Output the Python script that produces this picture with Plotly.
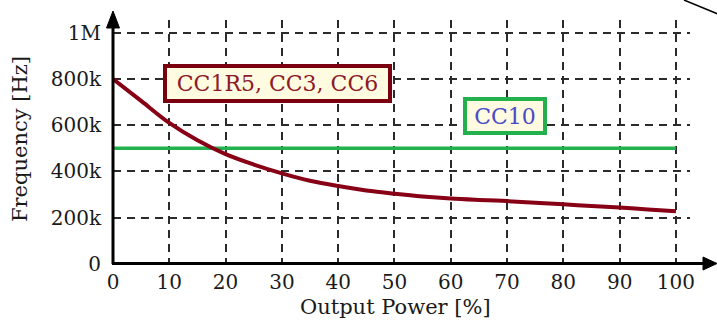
import plotly.graph_objects as go

# ---- data ----
power_pct = [0, 5, 10, 15, 20, 25, 30, 35, 40, 45, 50, 55, 60, 65, 70, 75, 80, 85, 90, 95, 100]
freq_cc1r5_cc3_cc6 = [800e3, 705e3, 610e3, 535e3, 475e3, 430e3, 392e3, 360e3, 337e3, 318e3, 304e3,
                      292e3, 283e3, 277e3, 272e3, 265e3, 258e3, 251e3, 244e3, 236e3, 228e3]
power_cc10 = [0, 100]
freq_cc10 = [500e3, 500e3]

x_ticks = [0, 10, 20, 30, 40, 50, 60, 70, 80, 90, 100]
y_tickvals = [0, 200e3, 400e3, 600e3, 800e3, 1e6]
y_ticktext = ["0", "200k", "400k", "600k", "800k", "1M"]

label_red = "CC1R5, CC3, CC6"
label_green = "CC10"
x_title = "Output Power [%]"
y_title = "Frequency [Hz]"

# ---- layout geometry ----
W, H = 717, 324
L, R, T, B = 113, 27, 20, 60
PW, PH = W - L - R, H - T - B
FONT = "DejaVu Serif"
DARKRED = "#880015"
GREEN = "#22b14c"


def px(p):
    return (p - L) / PW


def py(q):
    return (T + PH - q) / PH


fig = go.Figure()
fig.add_trace(go.Scatter(x=power_cc10, y=freq_cc10, mode="lines",
                         line=dict(color=GREEN, width=3.5), hoverinfo="skip"))
fig.add_trace(go.Scatter(x=power_pct, y=freq_cc1r5_cc3_cc6, mode="lines",
                         line=dict(color=DARKRED, width=4, shape="spline"), hoverinfo="skip"))

grid = dict(showgrid=True, gridcolor="#2b2b2b", gridwidth=1.6, griddash="8px,6px",
            zeroline=False, showline=False, ticks="", automargin=False,
            tickfont=dict(family=FONT, size=20, color="#1a1a1a"))

fig.update_xaxes(range=[0, 102.5], tickvals=x_ticks, ticklabelstandoff=4, **grid)
fig.update_yaxes(range=[0, 1055e3], tickvals=y_tickvals, ticktext=y_ticktext,
                 ticklabelstandoff=11, **grid)

shapes = [
    # axes
    dict(type="line", xref="paper", yref="paper", x0=px(113), y0=py(264), x1=px(113), y1=py(22),
         line=dict(color="black", width=3)),
    dict(type="line", xref="paper", yref="paper", x0=px(112), y0=py(263.5), x1=px(708), y1=py(263.5),
         line=dict(color="black", width=3)),
    # arrowheads
    dict(type="path", xref="paper", yref="paper",
         path=f"M {px(113)} {py(11)} L {px(106.5)} {py(28)} L {px(119.5)} {py(28)} Z",
         fillcolor="black", line=dict(color="black", width=1)),
    dict(type="path", xref="paper", yref="paper",
         path=f"M {px(717)} {py(263.5)} L {px(703)} {py(257)} L {px(703)} {py(270)} Z",
         fillcolor="black", line=dict(color="black", width=1)),
    # stray corner stroke
    dict(type="line", xref="paper", yref="paper", x0=px(684), y0=py(0), x1=px(718), y1=py(14),
         line=dict(color="black", width=1.5)),
]

annotations = [
    dict(x=29.3, y=782e3, xref="x", yref="y", text=label_red, showarrow=False,
         font=dict(family=FONT, size=22, color="#8b1a2a"), bgcolor="#fffbe0",
         bordercolor="#7a0010", borderwidth=4, borderpad=5, width=211, height=21),
    dict(x=69.6, y=639e3, xref="x", yref="y", text=label_green, showarrow=False,
         font=dict(family=FONT, size=22, color="#4a4ac8"), bgcolor="#fffbe0",
         bordercolor=GREEN, borderwidth=4, borderpad=5, width=66, height=20),
    dict(x=px(395), y=py(307), xref="paper", yref="paper", text=x_title, showarrow=False,
         xanchor="center", yanchor="middle",
         font=dict(family=FONT, size=21, color="#1a1a1a")),
    dict(x=px(20), y=py(139), xref="paper", yref="paper", text=y_title, showarrow=False,
         xanchor="center", yanchor="middle",
         textangle=-90, font=dict(family=FONT, size=21, color="#1a1a1a")),
]

fig.update_layout(width=W, height=H, margin=dict(l=L, r=R, t=T, b=B, autoexpand=False),
                  paper_bgcolor="white", plot_bgcolor="white", showlegend=False,
                  shapes=shapes, annotations=annotations)

fig.write_html("out.html", config={"displayModeBar": False},
               post_script="document.body.style.margin='0';")
